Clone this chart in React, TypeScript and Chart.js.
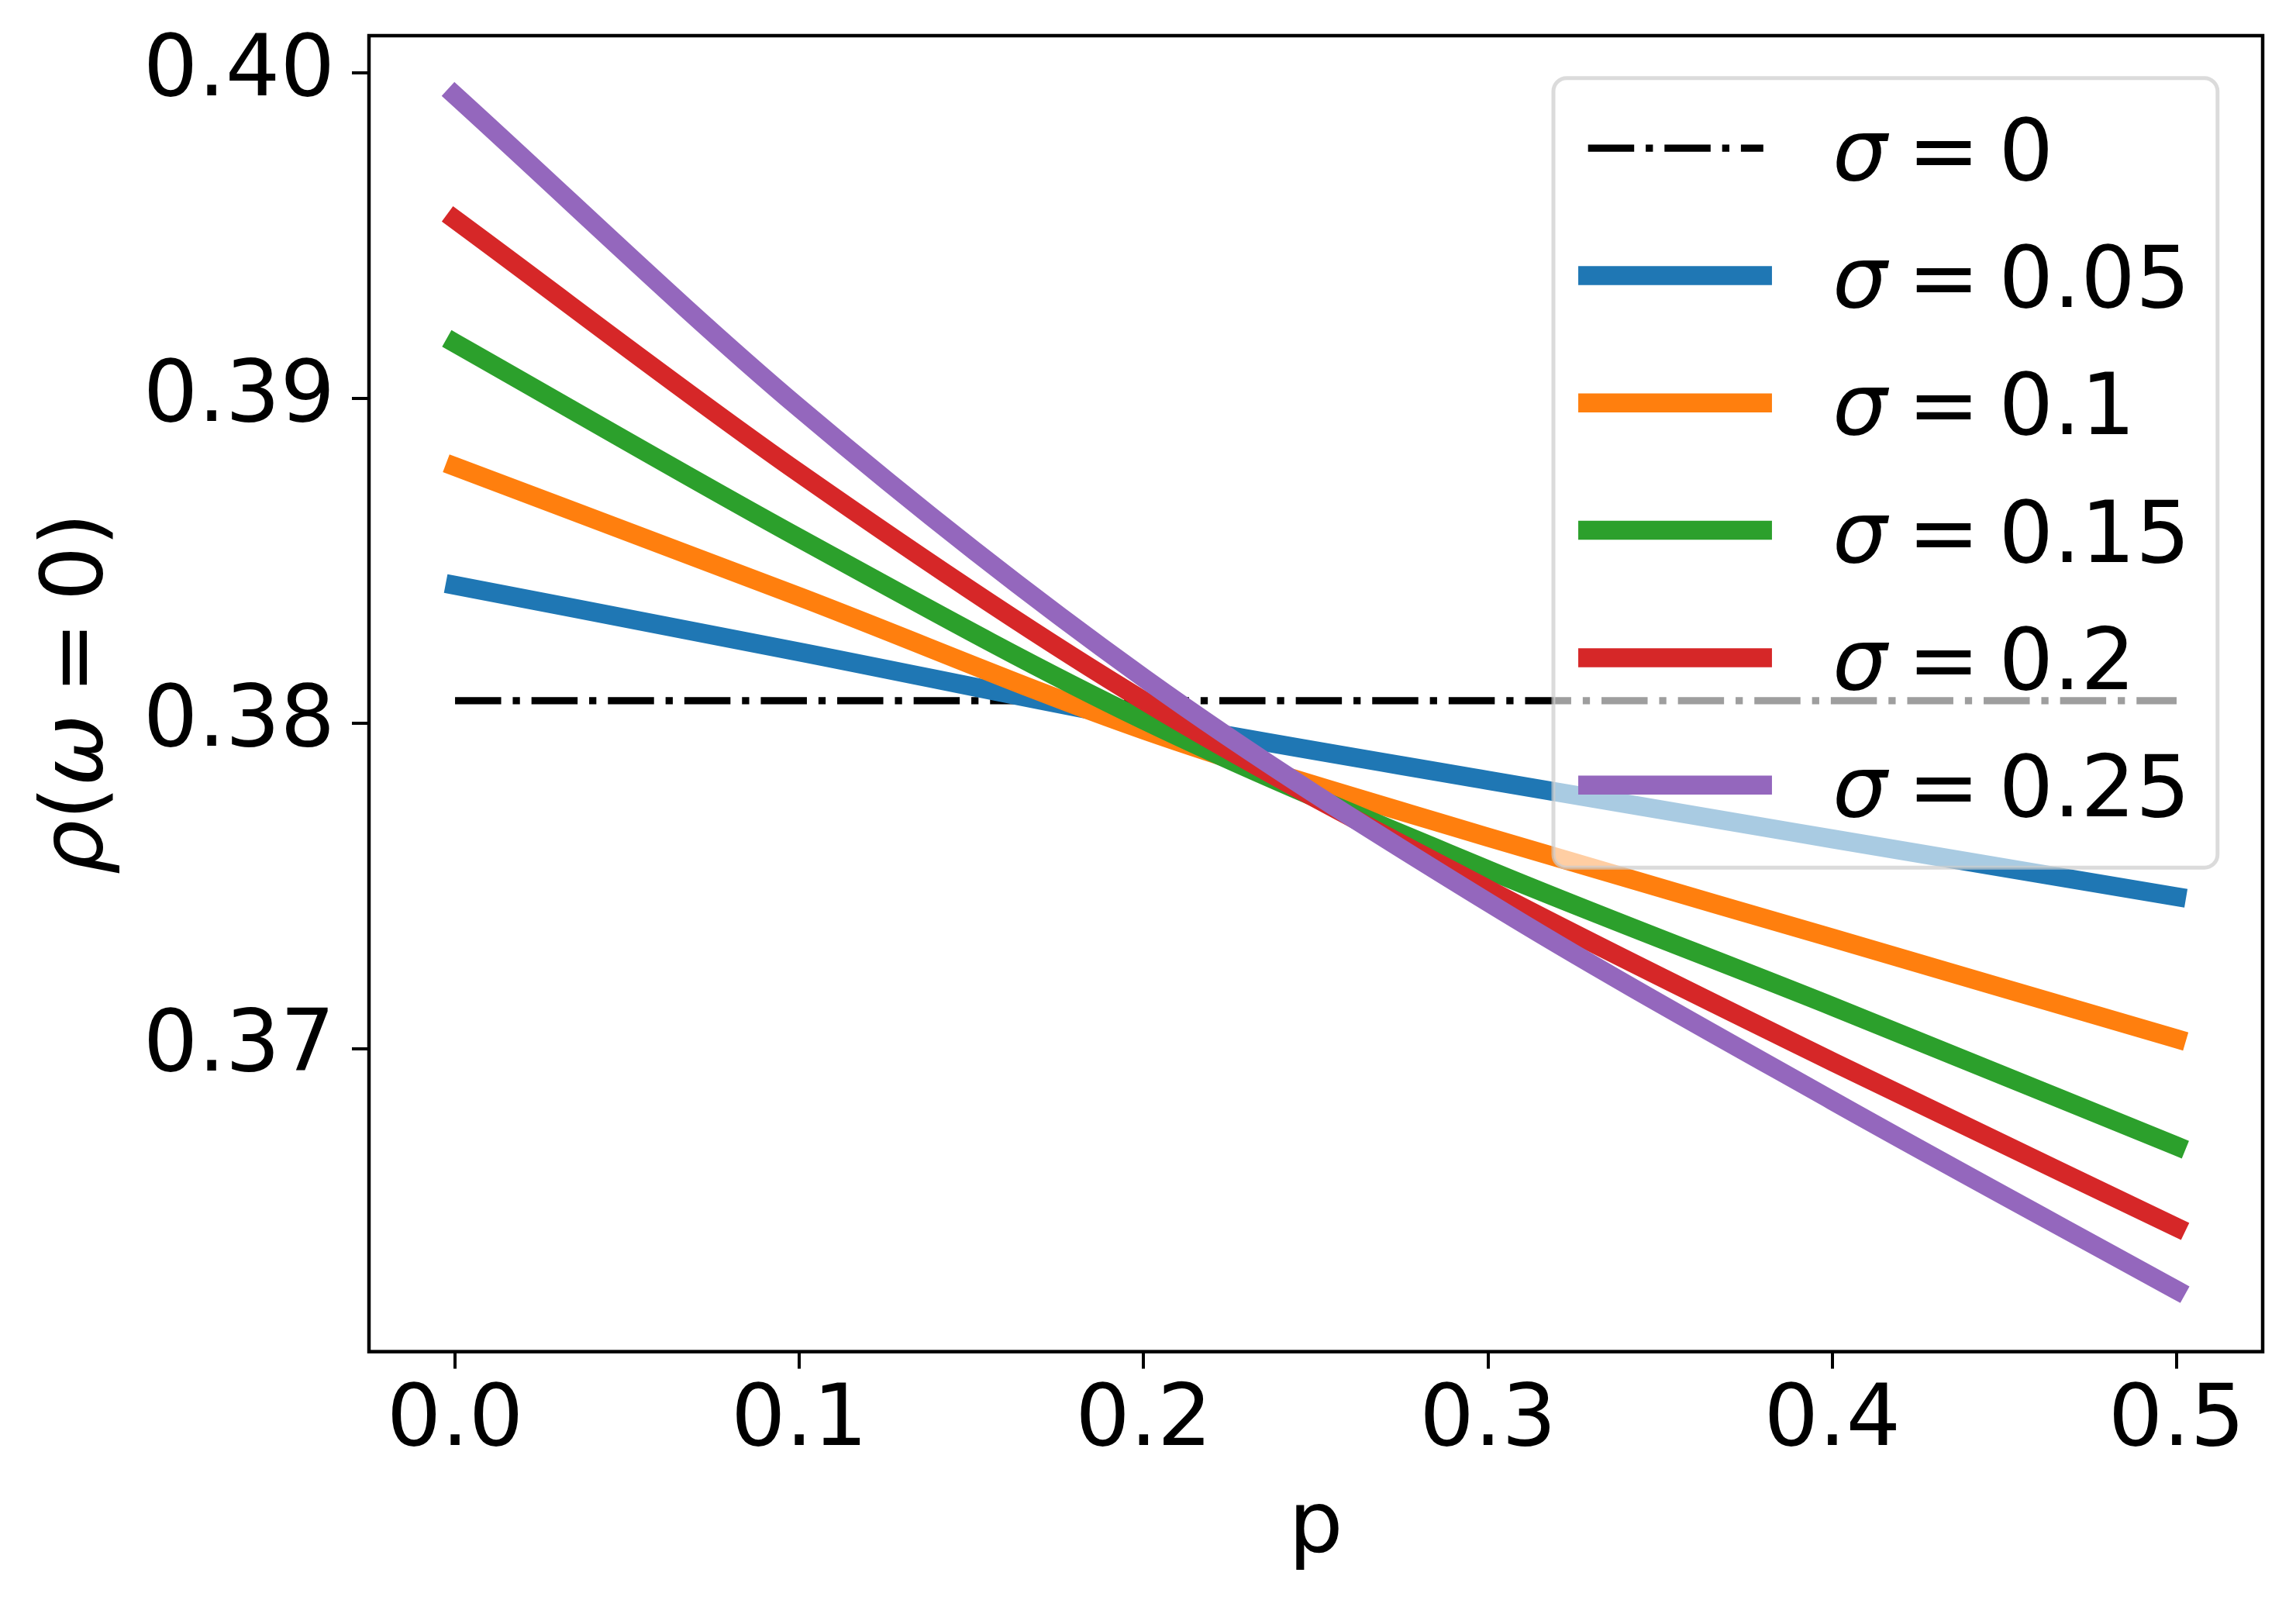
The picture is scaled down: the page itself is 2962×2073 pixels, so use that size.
import { useEffect, useRef } from 'react';
import { Chart, registerables } from 'chart.js';

Chart.register(...registerables);

// p on the x axis, rho(omega = 0) per sigma on the y axis
const pValues = [0, 0.1, 0.2, 0.3, 0.4, 0.5];
const sigmaLabels = ['0', '0.05', '0.1', '0.15', '0.2', '0.25'];
const rhoSigma0 = [0.3807, 0.3807, 0.3807, 0.3807, 0.3807, 0.3807];
const rhoSigma005 = [0.38425, 0.3822, 0.3801, 0.37825, 0.37645, 0.37467];
const rhoSigma010 = [0.3879, 0.3839, 0.3798, 0.3765, 0.3734, 0.3703];
const rhoSigma015 = [0.3917, 0.3857, 0.3801, 0.3755, 0.3713, 0.367];
const rhoSigma020 = [0.3955, 0.3877, 0.3807, 0.3749, 0.3696, 0.3645];
const rhoSigma025 = [0.39932, 0.3897, 0.3814, 0.3745, 0.3684, 0.36257];
const seriesValues = [rhoSigma0, rhoSigma005, rhoSigma010, rhoSigma015, rhoSigma020, rhoSigma025];
const seriesColors = ['#000000', '#1f77b4', '#ff7f0e', '#2ca02c', '#d62728', '#9467bd'];

const xTicks = [0, 0.1, 0.2, 0.3, 0.4, 0.5];
const yTicks = [0.37, 0.38, 0.39, 0.4];

const FONT = '"DejaVu Sans", sans-serif';
const SIZE = 111;
const DASH = [59.5, 14.9, 9.3, 14.9];

type Piece = { t: string; it?: boolean; l?: number; r?: number };

const setFont = (ctx: CanvasRenderingContext2D, it?: boolean) => {
  ctx.font = `${it ? 'oblique ' : ''}${SIZE}px ${FONT}`;
};

const mathWidth = (ctx: CanvasRenderingContext2D, pieces: Piece[]) =>
  pieces.reduce((w, p) => {
    setFont(ctx, p.it);
    return w + ((p.l || 0) + (p.r || 0)) * SIZE + ctx.measureText(p.t).width;
  }, 0);

const drawMath = (ctx: CanvasRenderingContext2D, pieces: Piece[], x: number, y: number) => {
  let cx = x;
  pieces.forEach(p => {
    setFont(ctx, p.it);
    cx += (p.l || 0) * SIZE;
    ctx.fillText(p.t, cx, y);
    cx += ctx.measureText(p.t).width + (p.r || 0) * SIZE;
  });
};

const overlay = {
  id: 'overlay',
  afterDraw(chart: any) {
    const { ctx, chartArea: a } = chart;
    ctx.save();

    // axes frame
    ctx.strokeStyle = '#000';
    ctx.lineWidth = 4.5;
    ctx.strokeRect(a.left, a.top, a.right - a.left, a.bottom - a.top);

    ctx.fillStyle = '#000';
    ctx.textAlign = 'left';
    ctx.textBaseline = 'alphabetic';

    // x title
    setFont(ctx);
    ctx.textAlign = 'center';
    ctx.fillText('p', (a.left + a.right) / 2, 1994);
    ctx.textAlign = 'left';

    // y title
    const yLabel: Piece[] = [
      { t: 'ρ', it: true },
      { t: '(' },
      { t: 'ω', it: true },
      { t: '=', l: 0.24, r: 0.24 },
      { t: '0' },
      { t: ')' },
    ];
    ctx.save();
    ctx.translate(123, (a.top + a.bottom) / 2);
    ctx.rotate(-Math.PI / 2);
    drawMath(ctx, yLabel, -mathWidth(ctx, yLabel) / 2, 0);
    ctx.restore();

    // legend
    const lx = 1996, ly = 92.7, lw = 856.8, lh = 1018.6;
    ctx.beginPath();
    ctx.roundRect(lx, ly, lw, lh, 17);
    ctx.fillStyle = 'rgba(255,255,255,0.62)';
    ctx.fill();
    ctx.strokeStyle = 'rgba(204,204,204,0.7)';
    ctx.lineWidth = 5;
    ctx.stroke();

    sigmaLabels.forEach((s, i) => {
      const cy = 183.2 + i * 164.3;
      ctx.beginPath();
      if (i === 0) {
        ctx.setLineDash(DASH);
        ctx.lineCap = 'butt';
        ctx.lineWidth = 9.3;
        ctx.moveTo(2040.7, cy);
        ctx.lineTo(2266.8, cy);
      } else {
        ctx.setLineDash([]);
        ctx.lineCap = 'square';
        ctx.lineWidth = 24.5;
        ctx.moveTo(2040.3, cy);
        ctx.lineTo(2265.7, cy);
      }
      ctx.strokeStyle = seriesColors[i];
      ctx.stroke();
      ctx.setLineDash([]);
      ctx.fillStyle = '#000';
      drawMath(ctx, [{ t: 'σ', it: true }, { t: '=', l: 0.24, r: 0.22 }, { t: s }], 2356, cy + 40.5);
    });

    ctx.restore();
  },
};

const App = () => {
  const canvasRef = useRef(null as HTMLCanvasElement | null);
  const chartRef = useRef(null as any);

  useEffect(() => {
    if (!canvasRef.current) return;
    if (chartRef.current) chartRef.current.destroy();

    const tickFont = { family: FONT, size: SIZE, lineHeight: 1 };
    const grid = {
      drawOnChartArea: false,
      drawTicks: true,
      tickLength: 22,
      tickWidth: 4,
      tickColor: '#000',
      color: '#000',
      lineWidth: 4,
    };

    chartRef.current = new Chart(canvasRef.current, {
      type: 'line',
      data: {
        datasets: seriesValues.map((vals, i) => ({
          label: `σ = ${sigmaLabels[i]}`,
          data: pValues.map((p, j) => ({ x: p, y: vals[j] })),
          borderColor: seriesColors[i],
          backgroundColor: seriesColors[i],
          borderWidth: i === 0 ? 9.3 : 24.5,
          borderDash: i === 0 ? DASH : [],
          borderCapStyle: i === 0 ? 'butt' : 'square',
          borderJoinStyle: 'round',
          cubicInterpolationMode: 'monotone',
          pointRadius: 0,
          fill: false,
          order: seriesValues.length - 1 - i,
        })),
      },
      options: {
        animation: false,
        responsive: false,
        devicePixelRatio: 1,
        layout: { padding: { top: 38, right: 35, left: 0, bottom: 0 } },
        plugins: { legend: { display: false }, tooltip: { enabled: false } },
        events: [],
        scales: {
          x: {
            type: 'linear',
            min: -0.025,
            max: 0.525,
            afterBuildTicks: (s: any) => { s.ticks = xTicks.map(v => ({ value: v })); },
            afterFit: (s: any) => {
              s.height = 2057 - 1735.6;
              s.paddingLeft = 0;
              s.paddingRight = 0;
            },
            ticks: {
              font: tickFont,
              color: '#000',
              padding: 14,
              autoSkip: false,
              maxRotation: 0,
              callback: (v: any) => Number(v).toFixed(1),
            },
            grid,
            border: { display: false },
          },
          y: {
            type: 'linear',
            min: 0.360677,
            max: 0.401156,
            afterBuildTicks: (s: any) => { s.ticks = yTicks.map(v => ({ value: v })); },
            afterFit: (s: any) => {
              s.width = 468;
              s.paddingTop = 0;
              s.paddingBottom = 0;
            },
            ticks: {
              font: tickFont,
              color: '#000',
              padding: 22,
              autoSkip: false,
              callback: (v: any) => Number(v).toFixed(2),
            },
            grid,
            border: { display: false },
          },
        },
      },
      plugins: [overlay],
    } as any);

    return () => {
      if (chartRef.current) {
        chartRef.current.destroy();
        chartRef.current = null;
      }
    };
  }, []);

  return (
    <div style={{ width: 2946, height: 2057, background: '#fff' }}>
      <canvas ref={canvasRef} width={2946} height={2057} />
    </div>
  );
};

export default App;
